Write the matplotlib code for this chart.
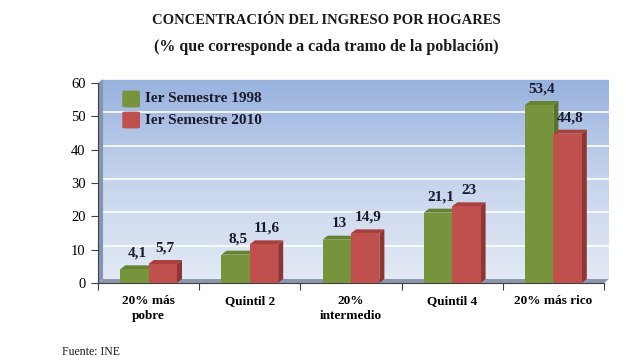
import matplotlib
matplotlib.use('Agg')
import matplotlib.pyplot as plt
import numpy as np
from matplotlib.patches import Polygon, FancyBboxPatch

categories = ['20% más\npobre', 'Quintil 2', '20%\nintermedio', 'Quintil 4', '20% más rico']
sem_1998 = [4.1, 8.5, 13.0, 21.1, 53.4]
sem_2010 = [5.7, 11.6, 14.9, 23.0, 44.8]
series_names = ['Ier Semestre 1998', 'Ier Semestre 2010']
yticks = [0, 10, 20, 30, 40, 50, 60]

plt.rcParams['font.family'] = ['Liberation Serif', 'DejaVu Serif']

COLORS = {
    'green': ('#77933c', '#5a7229', '#678331'),
    'red': ('#c0504d', '#8f3633', '#a8413e'),
}
DX, DY = 0.05, 1.2
W = 0.28


def fmt(v):
    s = f'{v:.1f}'.replace('.', ',')
    return s[:-2] if s.endswith(',0') else s


def draw_bar(ax, x0, v, cols):
    front, side, top = cols
    x1 = x0 + W
    ax.add_patch(Polygon([(x1, 0), (x1 + DX, DY), (x1 + DX, v + DY), (x1, v)],
                         closed=True, facecolor=side, edgecolor='none', zorder=3))
    ax.add_patch(Polygon([(x0, v), (x0 + DX, v + DY), (x1 + DX, v + DY), (x1, v)],
                         closed=True, facecolor=top, edgecolor='none', zorder=3))
    ax.bar(x0, v, width=W, align='edge', color=front, edgecolor='none', zorder=3)
    ax.annotate(fmt(v), (x0 + W / 2 + DX / 2, v + DY), xytext=(0, 4),
                textcoords='offset points', ha='center', va='bottom',
                fontsize=11, fontweight='bold', color='#1a1a2e', zorder=5)


fig = plt.figure(figsize=(6.37, 3.64), dpi=100)
ax = fig.add_axes([98 / 637, 1 - 283 / 364, 506 / 637, 200 / 364])
ax.set_xlim(-0.5, 4.5)
ax.set_ylim(0, 60)
ax.set_facecolor('none')

# back wall gradient
grad = np.linspace(0, 1, 256).reshape(-1, 1)
cmap = matplotlib.colors.LinearSegmentedColormap.from_list('bg', ['#e2e9f5', '#c6d4ec', '#98b2de'])
ax.imshow(grad, aspect='auto', cmap=cmap, origin='lower',
          extent=(-0.5 + DX, 4.5 + DX, DY, 60 + DY), zorder=0, clip_on=False)
for t in yticks[1:]:
    ax.plot([-0.5 + DX, 4.5 + DX], [t + DY, t + DY], color='white', lw=1.2,
            zorder=1, clip_on=False)

# left wall and floor
ax.add_patch(Polygon([(-0.5, 0), (-0.5 + DX, DY), (-0.5 + DX, 60 + DY), (-0.5, 60)],
                     closed=True, facecolor='#8594b0', edgecolor='none', zorder=1, clip_on=False))
ax.add_patch(Polygon([(-0.5, 0), (4.5, 0), (4.5 + DX, DY), (-0.5 + DX, DY)],
                     closed=True, facecolor='#8a97ae', edgecolor='none', zorder=2, clip_on=False))

x = np.arange(len(categories))
for i in range(len(categories)):
    draw_bar(ax, x[i] - W, sem_1998[i], COLORS['green'])
    draw_bar(ax, x[i], sem_2010[i], COLORS['red'])

for s in ['top', 'right']:
    ax.spines[s].set_visible(False)
for s in ['left', 'bottom']:
    ax.spines[s].set_color('#404040')
    ax.spines[s].set_linewidth(0.8)

ax.set_yticks(yticks)
ax.tick_params(axis='y', length=5, width=0.8, color='#404040', labelsize=10.5, pad=4)
ax.set_xticks(x)
ax.set_xticklabels(categories, fontsize=9.5, fontweight='bold', linespacing=1.3)
ax.set_xticks(np.arange(-0.5, 5, 1), minor=True)
ax.tick_params(axis='x', which='major', length=0, pad=9)
ax.tick_params(axis='x', which='minor', length=5, width=0.8, color='#404040')

# legend
for j, (name, key) in enumerate(zip(series_names, ['green', 'red'])):
    yy = 0.92 - j * 0.105
    ax.add_patch(FancyBboxPatch((0.048, yy - 0.042), 0.035, 0.084,
                                boxstyle='round,pad=0,rounding_size=0.006',
                                transform=ax.transAxes, facecolor=COLORS[key][0],
                                edgecolor='none', zorder=4))
    ax.text(0.093, yy, name, transform=ax.transAxes, fontsize=11, fontweight='bold',
            va='center', ha='left', color='#1a1a2e', zorder=4)

fig.text(0.513, 0.935, 'CONCENTRACIÓN DEL INGRESO POR HOGARES', ha='center',
         fontsize=10.5, fontweight='bold', color='#1a1a1a')
fig.text(0.513, 0.86, '(% que corresponde a cada tramo de la población)', ha='center',
         fontsize=11.5, fontweight='bold', color='#1a1a1a')
fig.text(62 / 637, 1 - 352 / 364, 'Fuente: INE', ha='left', va='center', fontsize=8.5,
         color='#1a1a1a')

fig.savefig('out.png', dpi=100)
